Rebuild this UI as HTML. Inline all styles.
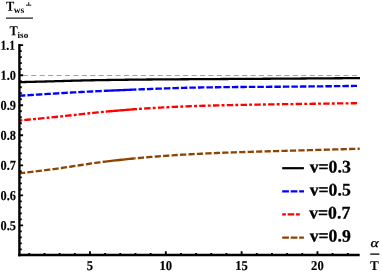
<!DOCTYPE html>
<html><head><meta charset="utf-8"><title>plot</title>
<style>html,body{margin:0;padding:0;background:#fff;overflow:hidden}svg{display:block;will-change:transform;text-rendering:geometricPrecision}</style>
</head><body>
<svg width="382" height="273" viewBox="0 0 382 273">
<rect width="382" height="273" fill="#fff"/>
<path d="M22.76 75.5H357" stroke="#a0a0a0" stroke-width="1.1" stroke-dasharray="5 3.44" fill="none"/>
<path d="M19.5 82.15 L21.5 82.10 L23.5 82.06 L25.5 82.01 L27.5 81.96 L29.5 81.91 L31.5 81.86 L33.5 81.81 L35.5 81.76 L37.5 81.71 L39.5 81.65 L41.5 81.60 L43.5 81.55 L45.5 81.49 L47.5 81.44 L49.5 81.38 L51.5 81.33 L53.5 81.28 L55.5 81.22 L57.5 81.17 L59.5 81.11 L61.5 81.06 L63.5 81.00 L65.5 80.95 L67.5 80.89 L69.5 80.83 L71.5 80.77 L73.5 80.71 L75.5 80.65 L77.5 80.60 L79.5 80.54 L81.5 80.49 L83.5 80.44 L85.5 80.39 L87.5 80.35 L89.5 80.31 L91.5 80.27 L93.5 80.24 L95.5 80.20 L97.5 80.17 L99.5 80.13 L101.5 80.10 L103.5 80.07 L105.5 80.04 L107.5 80.01 L109.5 79.98 L111.5 79.95 L113.5 79.92 L115.5 79.89 L117.5 79.86 L119.5 79.84 L121.5 79.81 L123.5 79.78 L125.5 79.76 L127.5 79.74 L129.5 79.71 L131.5 79.69 L133.5 79.67 L135.5 79.64 L137.5 79.62 L139.5 79.60 L141.5 79.58 L143.5 79.56 L145.5 79.54 L147.5 79.52 L149.5 79.50 L151.5 79.49 L153.5 79.47 L155.5 79.45 L157.5 79.44 L159.5 79.42 L161.5 79.40 L163.5 79.39 L165.5 79.37 L167.5 79.36 L169.5 79.34 L171.5 79.33 L173.5 79.32 L175.5 79.30 L177.5 79.29 L179.5 79.28 L181.5 79.27 L183.5 79.25 L185.5 79.24 L187.5 79.23 L189.5 79.22 L191.5 79.20 L193.5 79.19 L195.5 79.18 L197.5 79.17 L199.5 79.15 L201.5 79.14 L203.5 79.13 L205.5 79.12 L207.5 79.10 L209.5 79.09 L211.5 79.08 L213.5 79.06 L215.5 79.05 L217.5 79.04 L219.5 79.03 L221.5 79.02 L223.5 79.00 L225.5 78.99 L227.5 78.98 L229.5 78.97 L231.5 78.95 L233.5 78.94 L235.5 78.93 L237.5 78.92 L239.5 78.91 L241.5 78.90 L243.5 78.88 L245.5 78.87 L247.5 78.86 L249.5 78.85 L251.5 78.84 L253.5 78.82 L255.5 78.81 L257.5 78.80 L259.5 78.79 L261.5 78.78 L263.5 78.76 L265.5 78.75 L267.5 78.74 L269.5 78.73 L271.5 78.72 L273.5 78.70 L275.5 78.69 L277.5 78.68 L279.5 78.67 L281.5 78.65 L283.5 78.64 L285.5 78.63 L287.5 78.61 L289.5 78.60 L291.5 78.59 L293.5 78.57 L295.5 78.56 L297.5 78.54 L299.5 78.53 L301.5 78.51 L303.5 78.50 L305.5 78.48 L307.5 78.47 L309.5 78.45 L311.5 78.44 L313.5 78.42 L315.5 78.41 L317.5 78.39 L319.5 78.38 L321.5 78.36 L323.5 78.35 L325.5 78.34 L327.5 78.32 L329.5 78.31 L331.5 78.30 L333.5 78.28 L335.5 78.27 L337.5 78.26 L339.5 78.25 L341.5 78.23 L343.5 78.22 L345.5 78.21 L347.5 78.20 L349.5 78.19 L351.5 78.18 L353.5 78.18 L355.5 78.17 L357.5 78.16 L359.5 78.15 L360.0 78.15" stroke="#000" stroke-width="2.3" fill="none"/>
<path d="M19.5 95.80 L21.5 95.66 L23.5 95.52 L25.5 95.39 L27.5 95.25 L29.5 95.12 L31.5 94.98 L33.5 94.85 L35.5 94.72 L37.5 94.59 L39.5 94.46 L41.5 94.33 L43.5 94.21 L45.5 94.08 L47.5 93.95 L49.5 93.83 L51.5 93.71 L53.5 93.59 L55.5 93.47 L57.5 93.35 L59.5 93.23 L61.5 93.11 L63.5 93.00 L65.5 92.88 L67.5 92.77 L69.5 92.65 L71.5 92.54 L73.5 92.43 L75.5 92.31 L77.5 92.20 L79.5 92.09 L81.5 91.98 L83.5 91.88 L85.5 91.77 L87.5 91.66 L89.5 91.56 L91.5 91.46 L93.5 91.36 L95.5 91.26 L97.5 91.16 L99.5 91.06 L101.5 90.97 L103.5 90.88 L105.0 90.81" stroke="#0000ff" stroke-width="2.35" fill="none" stroke-dasharray="6.5 2.0" stroke-dashoffset="0.6"/>
<path d="M104.5 90.83 L106.5 90.74 L108.5 90.65 L110.5 90.56 L112.5 90.47 L114.5 90.39 L116.5 90.30 L118.5 90.22 L120.5 90.14 L122.5 90.05 L124.5 89.97 L126.5 89.89 L128.5 89.81 L130.5 89.73 L132.5 89.65 L134.5 89.58 L136.0 89.52" stroke="#0000ff" stroke-width="2.35" fill="none"/>
<path d="M136.0 89.52 L138.0 89.44 L140.0 89.37 L142.0 89.29 L144.0 89.22 L146.0 89.15 L148.0 89.07 L150.0 89.00 L152.0 88.93 L154.0 88.85 L156.0 88.78 L158.0 88.70 L160.0 88.63 L162.0 88.55 L164.0 88.48 L166.0 88.40 L168.0 88.33 L170.0 88.26 L172.0 88.19 L174.0 88.12 L176.0 88.05 L178.0 87.99 L180.0 87.92 L182.0 87.87 L184.0 87.81 L186.0 87.76 L188.0 87.71 L190.0 87.66 L192.0 87.62 L194.0 87.58 L196.0 87.55 L198.0 87.51 L200.0 87.48 L202.0 87.45 L204.0 87.42 L206.0 87.39 L208.0 87.36 L210.0 87.33 L212.0 87.30 L214.0 87.28 L216.0 87.25 L218.0 87.23 L220.0 87.20 L222.0 87.18 L224.0 87.16 L226.0 87.14 L228.0 87.12 L230.0 87.09 L232.0 87.07 L234.0 87.06 L236.0 87.04 L238.0 87.02 L240.0 87.00 L242.0 86.98 L244.0 86.97 L246.0 86.95 L248.0 86.94 L250.0 86.92 L252.0 86.91 L254.0 86.89 L256.0 86.88 L258.0 86.87 L260.0 86.86 L262.0 86.84 L264.0 86.83 L266.0 86.82 L268.0 86.81 L270.0 86.79 L272.0 86.78 L274.0 86.77 L276.0 86.75 L278.0 86.74 L280.0 86.72 L282.0 86.71 L284.0 86.69 L286.0 86.67 L288.0 86.66 L290.0 86.64 L292.0 86.62 L294.0 86.60 L296.0 86.59 L298.0 86.57 L300.0 86.55 L302.0 86.53 L304.0 86.51 L306.0 86.49 L308.0 86.47 L310.0 86.45 L312.0 86.43 L314.0 86.41 L316.0 86.39 L318.0 86.37 L320.0 86.35 L322.0 86.32 L324.0 86.30 L326.0 86.28 L328.0 86.26 L330.0 86.23 L332.0 86.21 L334.0 86.19 L336.0 86.16 L338.0 86.14 L340.0 86.12 L342.0 86.09 L344.0 86.07 L346.0 86.04 L348.0 86.02 L350.0 85.99 L352.0 85.97 L354.0 85.94 L356.0 85.91 L357.0 85.90" stroke="#0000ff" stroke-width="2.35" fill="none" stroke-dasharray="6.5 2.0" stroke-dashoffset="6.1"/>
<path d="M19.5 120.50 L21.5 120.31 L23.5 120.12 L25.5 119.93 L27.5 119.74 L29.5 119.54 L31.5 119.35 L33.5 119.15 L35.5 118.96 L37.5 118.76 L39.5 118.56 L41.5 118.37 L43.5 118.17 L45.5 117.97 L47.5 117.77 L49.5 117.57 L51.5 117.37 L53.5 117.16 L55.5 116.96 L57.5 116.76 L59.5 116.55 L61.5 116.34 L63.5 116.13 L65.5 115.92 L67.5 115.70 L69.5 115.48 L71.5 115.26 L73.5 115.04 L75.5 114.81 L77.5 114.59 L79.5 114.36 L81.5 114.14 L83.5 113.91 L85.5 113.69 L87.5 113.47 L89.5 113.25 L91.5 113.04 L93.5 112.83 L95.5 112.62 L97.5 112.42 L99.5 112.23 L101.5 112.04 L103.5 111.85 L105.5 111.67 L106.5 111.58" stroke="#ff0000" stroke-width="2.35" fill="none" stroke-dasharray="6.6 2.2 2.9 1.95" stroke-dashoffset="8.85"/>
<path d="M106.0 111.63 L108.0 111.45 L110.0 111.27 L112.0 111.09 L114.0 110.92 L116.0 110.75 L118.0 110.57 L120.0 110.40 L122.0 110.24 L124.0 110.07 L126.0 109.91 L128.0 109.75 L130.0 109.59 L132.0 109.44 L134.0 109.29 L136.0 109.14 L137.0 109.06" stroke="#ff0000" stroke-width="2.35" fill="none"/>
<path d="M137.0 109.06 L139.0 108.92 L141.0 108.78 L143.0 108.65 L145.0 108.51 L147.0 108.38 L149.0 108.26 L151.0 108.14 L153.0 108.02 L155.0 107.90 L157.0 107.79 L159.0 107.67 L161.0 107.56 L163.0 107.45 L165.0 107.34 L167.0 107.24 L169.0 107.13 L171.0 107.03 L173.0 106.93 L175.0 106.84 L177.0 106.74 L179.0 106.65 L181.0 106.56 L183.0 106.48 L185.0 106.40 L187.0 106.32 L189.0 106.24 L191.0 106.17 L193.0 106.10 L195.0 106.03 L197.0 105.97 L199.0 105.91 L201.0 105.84 L203.0 105.78 L205.0 105.73 L207.0 105.67 L209.0 105.61 L211.0 105.56 L213.0 105.51 L215.0 105.46 L217.0 105.41 L219.0 105.36 L221.0 105.31 L223.0 105.26 L225.0 105.22 L227.0 105.17 L229.0 105.13 L231.0 105.08 L233.0 105.04 L235.0 105.00 L237.0 104.96 L239.0 104.92 L241.0 104.88 L243.0 104.84 L245.0 104.80 L247.0 104.77 L249.0 104.73 L251.0 104.70 L253.0 104.66 L255.0 104.63 L257.0 104.60 L259.0 104.56 L261.0 104.53 L263.0 104.50 L265.0 104.47 L267.0 104.44 L269.0 104.41 L271.0 104.38 L273.0 104.35 L275.0 104.32 L277.0 104.29 L279.0 104.26 L281.0 104.23 L283.0 104.20 L285.0 104.17 L287.0 104.14 L289.0 104.11 L291.0 104.08 L293.0 104.05 L295.0 104.02 L297.0 103.99 L299.0 103.97 L301.0 103.94 L303.0 103.91 L305.0 103.88 L307.0 103.85 L309.0 103.82 L311.0 103.80 L313.0 103.77 L315.0 103.74 L317.0 103.71 L319.0 103.68 L321.0 103.66 L323.0 103.63 L325.0 103.60 L327.0 103.58 L329.0 103.55 L331.0 103.52 L333.0 103.50 L335.0 103.47 L337.0 103.45 L339.0 103.42 L341.0 103.40 L343.0 103.37 L345.0 103.35 L347.0 103.32 L349.0 103.30 L351.0 103.27 L353.0 103.25 L355.0 103.22 L357.0 103.20" stroke="#ff0000" stroke-width="2.35" fill="none" stroke-dasharray="6.4 2.2 2.9 2.28" stroke-dashoffset="6.6"/>
<path d="M19.5 173.40 L21.5 173.16 L23.5 172.92 L25.5 172.67 L27.5 172.43 L29.5 172.18 L31.5 171.93 L33.5 171.68 L35.5 171.43 L37.5 171.17 L39.5 170.92 L41.5 170.66 L43.5 170.40 L45.5 170.14 L47.5 169.88 L49.5 169.61 L51.5 169.35 L53.5 169.08 L55.5 168.81 L57.5 168.54 L59.5 168.27 L61.5 167.99 L63.5 167.71 L65.5 167.42 L67.5 167.12 L69.5 166.82 L71.5 166.52 L73.5 166.21 L75.5 165.90 L77.5 165.59 L79.5 165.28 L81.5 164.97 L83.5 164.66 L85.5 164.36 L87.5 164.05 L89.5 163.75 L91.5 163.46 L93.5 163.17 L95.5 162.88 L97.5 162.61 L99.5 162.34 L101.5 162.09 L103.5 161.84 L104.0 161.78" stroke="#8e4300" stroke-width="2.35" fill="none" stroke-dasharray="6.2 2.25" stroke-dashoffset="0.55"/>
<path d="M103.3 161.86 L105.3 161.62 L107.3 161.38 L109.3 161.14 L111.3 160.91 L113.3 160.67 L115.3 160.44 L117.3 160.22 L119.3 159.99 L121.3 159.77 L123.3 159.55 L125.3 159.34 L127.3 159.13 L129.3 158.92 L131.3 158.72 L133.3 158.52 L134.8 158.37" stroke="#8e4300" stroke-width="2.35" fill="none"/>
<path d="M134.8 158.37 L136.8 158.17 L138.8 157.98 L140.8 157.80 L142.8 157.62 L144.8 157.44 L146.8 157.27 L148.8 157.10 L150.8 156.93 L152.8 156.77 L154.8 156.61 L156.8 156.46 L158.8 156.30 L160.8 156.15 L162.8 156.00 L164.8 155.86 L166.8 155.71 L168.8 155.57 L170.8 155.44 L172.8 155.30 L174.8 155.17 L176.8 155.04 L178.8 154.91 L180.8 154.79 L182.8 154.67 L184.8 154.55 L186.8 154.44 L188.8 154.32 L190.8 154.22 L192.8 154.11 L194.8 154.01 L196.8 153.91 L198.8 153.81 L200.8 153.71 L202.8 153.62 L204.8 153.53 L206.8 153.44 L208.8 153.35 L210.8 153.26 L212.8 153.18 L214.8 153.09 L216.8 153.01 L218.8 152.93 L220.8 152.85 L222.8 152.77 L224.8 152.70 L226.8 152.62 L228.8 152.55 L230.8 152.47 L232.8 152.40 L234.8 152.33 L236.8 152.26 L238.8 152.19 L240.8 152.12 L242.8 152.06 L244.8 151.99 L246.8 151.93 L248.8 151.87 L250.8 151.80 L252.8 151.75 L254.8 151.69 L256.8 151.63 L258.8 151.57 L260.8 151.52 L262.8 151.46 L264.8 151.40 L266.8 151.35 L268.8 151.29 L270.8 151.24 L272.8 151.18 L274.8 151.13 L276.8 151.07 L278.8 151.02 L280.8 150.96 L282.8 150.91 L284.8 150.85 L286.8 150.79 L288.8 150.73 L290.8 150.68 L292.8 150.62 L294.8 150.56 L296.8 150.50 L298.8 150.45 L300.8 150.39 L302.8 150.33 L304.8 150.28 L306.8 150.22 L308.8 150.16 L310.8 150.10 L312.8 150.05 L314.8 149.99 L316.8 149.93 L318.8 149.88 L320.8 149.82 L322.8 149.77 L324.8 149.71 L326.8 149.65 L328.8 149.60 L330.8 149.54 L332.8 149.49 L334.8 149.43 L336.8 149.38 L338.8 149.32 L340.8 149.26 L342.8 149.21 L344.8 149.16 L346.8 149.10 L348.8 149.05 L350.8 148.99 L352.8 148.94 L354.8 148.89 L356.8 148.83 L358.8 148.78 L359.7 148.76" stroke="#8e4300" stroke-width="2.35" fill="none" stroke-dasharray="6.2 2.26" stroke-dashoffset="5.4"/>
<path d="M19.4 44V256.3" stroke="#000" stroke-width="2.4" fill="none"/>
<path d="M18.2 255.05H359.7" stroke="#000" stroke-width="2.4" fill="none"/>
<path d="M19 249.43H21.8 M19 243.42H21.8 M19 237.42H21.8 M19 231.41H21.8 M19 225.40H23.1 M19 219.39H21.8 M19 213.38H21.8 M19 207.38H21.8 M19 201.37H21.8 M19 195.36H23.1 M19 189.35H21.8 M19 183.34H21.8 M19 177.34H21.8 M19 171.33H21.8 M19 165.32H23.1 M19 159.31H21.8 M19 153.30H21.8 M19 147.30H21.8 M19 141.29H21.8 M19 135.28H23.1 M19 129.27H21.8 M19 123.26H21.8 M19 117.26H21.8 M19 111.25H21.8 M19 105.24H23.1 M19 99.23H21.8 M19 93.22H21.8 M19 87.22H21.8 M19 81.21H21.8 M19 75.20H23.1 M19 69.19H21.8 M19 63.18H21.8 M19 57.18H21.8 M19 51.17H21.8 M19 45.16H23.1" stroke="#000" stroke-width="1.85" fill="none"/>
<path d="M29.31 255.1V253.0 M44.48 255.1V253.0 M59.64 255.1V253.0 M74.81 255.1V253.0 M89.97 255.1V251.3 M105.14 255.1V253.0 M120.31 255.1V253.0 M135.47 255.1V253.0 M150.63 255.1V253.0 M165.80 255.1V251.3 M180.97 255.1V253.0 M196.13 255.1V253.0 M211.29 255.1V253.0 M226.46 255.1V253.0 M241.62 255.1V251.3 M256.79 255.1V253.0 M271.95 255.1V253.0 M287.12 255.1V253.0 M302.28 255.1V253.0 M317.45 255.1V251.3 M332.61 255.1V253.0 M347.78 255.1V253.0" stroke="#000" stroke-width="1.85" fill="none"/>
<g font-family="Liberation Serif, serif" font-weight="bold" font-size="13px" fill="#000" stroke="#000" stroke-width="0.15">
<text transform="translate(15.0 49.71) rotate(0.05) scale(0.9 1.04)" text-anchor="end">1.1</text>
<text transform="translate(15.9 79.75) rotate(0.05) scale(0.95 1.04)" text-anchor="end">1.0</text>
<text transform="translate(15.9 109.79) rotate(0.05) scale(0.95 1.04)" text-anchor="end">0.9</text>
<text transform="translate(15.9 139.83) rotate(0.05) scale(0.95 1.04)" text-anchor="end">0.8</text>
<text transform="translate(15.9 169.87) rotate(0.05) scale(0.95 1.04)" text-anchor="end">0.7</text>
<text transform="translate(15.9 199.91) rotate(0.05) scale(0.95 1.04)" text-anchor="end">0.6</text>
<text transform="translate(15.9 229.95) rotate(0.05) scale(0.95 1.04)" text-anchor="end">0.5</text>
<text transform="translate(90.0 269.9) scale(0.97 1.04)" text-anchor="middle">5</text>
<text transform="translate(165.8 269.9) scale(0.97 1.04)" text-anchor="middle">10</text>
<text transform="translate(241.6 269.9) scale(0.97 1.04)" text-anchor="middle">15</text>
<text transform="translate(317.4 269.9) scale(0.97 1.04)" text-anchor="middle">20</text>
</g>
<g font-family="Liberation Serif, serif" font-weight="bold" font-size="17.7px" fill="#000" stroke="#000" stroke-width="0.3">
<text transform="translate(309.7 172.5) rotate(0.05)">v=0.3</text>
<text transform="translate(309.7 195.5) rotate(0.05)">v=0.5</text>
<text transform="translate(309.2 218.5) rotate(0.05)">v=0.7</text>
<text transform="translate(309.7 241.6) rotate(0.05)">v=0.9</text>
</g>
<path d="M282.2 168.2H303.9" stroke="#000" stroke-width="2.2"/>
<path d="M282.2 191.4H304" stroke="#0000ff" stroke-width="2.2" stroke-dasharray="6.7 1.8"/>
<path d="M282.2 214.4H299.8" stroke="#ff0000" stroke-width="2.2" stroke-dasharray="3.7 1.7 6.7 1.7 3.8 9"/>
<path d="M282.2 237.6H303.9" stroke="#8e4300" stroke-width="2.2" stroke-dasharray="6.7 1.8"/>
<g font-family="Liberation Serif, serif" font-weight="bold" fill="#000">
<text transform="translate(5.9 10.8) rotate(0.05) scale(0.93 1.02)" font-size="13.4px">T</text>
<text x="13.7" y="13" font-size="9.4px">ws</text>
<text transform="translate(9.5 35.15) rotate(0.05) scale(0.93 1.02)" font-size="13.4px">T</text>
<text x="17.6" y="37.7" font-size="9.1px">iso</text>
<text x="370" y="269.7" font-size="13.2px">T</text>
</g>
<path d="M28.7 2.1V5.2M26 5.2H31.3" stroke="#000" stroke-width="0.85" fill="none"/>
<path d="M6 18.1H33" stroke="#000" stroke-width="1.1"/>
<path d="M370.2 254.1H379.4" stroke="#000" stroke-width="1.3"/>
<text transform="translate(370.5 246.7) scale(1.2 0.97)" font-family="Liberation Serif, serif" font-style="italic" font-weight="normal" font-size="13px" stroke="#000" stroke-width="0.3">α</text>
</svg>
</body></html>
